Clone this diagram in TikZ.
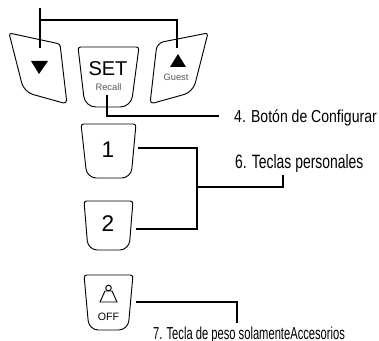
\documentclass[tikz,border=0pt]{standalone}
\usepackage{fontspec}
\setmainfont{Liberation Sans}
\tikzset{
	keyshape/.style={draw,line width=0.7pt,rounded corners=2pt},
	leader/.style={draw,line width=1.1pt},
	calltext/.style={anchor=base west,inner sep=0pt},
	smalltext/.style={text=black!65,font=\fontsize{7}{7}\selectfont},
}
\begin{document}
\begin{tikzpicture}[x=0.75pt,y=-0.75pt]
	\useasboundingbox (0,0) rectangle (379,341);
	%teclas
	\draw[keyshape] (9,33) -- (60,44) [rounded corners=3pt] -- (67,104) [rounded corners=7pt] -- (24,92) [rounded corners=2pt] -- cycle;
	\draw[keyshape] (78,47) -- (139,47) [rounded corners=8pt] -- (131,107) -- (85,107) [rounded corners=2pt] -- cycle;
	\draw[keyshape] (157,43) -- (208,33) [rounded corners=7pt] -- (193,92) [rounded corners=3pt] -- (150,104) [rounded corners=5pt] -- cycle;
	\draw[keyshape] (81,124) -- (136,124) [rounded corners=7pt] -- (131,178) -- (87,178) [rounded corners=2pt] -- cycle;
	\draw[keyshape] (84,201) -- (133,201) [rounded corners=7pt] -- (129,250) -- (88,250) [rounded corners=2pt] -- cycle;
	\draw[keyshape] (84,275) -- (133,275) [rounded corners=7pt] -- (128,330) -- (89,330) [rounded corners=2pt] -- cycle;
	%simbolos
	\fill (31,61) -- (48,61) -- (39,74) -- cycle;
	\fill (170,67) -- (186,67) -- (178,54) -- cycle;
	\node[smalltext] (guest) at (176,77) {Guest};
	\node (set) at (108,68.5) {\fontsize{15}{15}\selectfont SET};
	\node[smalltext] (recall) at (108.5,87) {Recall};
	\node (uno) at (108,150) {\fontsize{17}{17}\selectfont 1};
	\node (dos) at (108,224) {\fontsize{17}{17}\selectfont 2};
	\node (off) at (108.5,317) {\fontsize{8}{8}\selectfont OFF};
	%pesa
	\draw[line width=0.7pt] (105,291) -- (112,291) -- (117,302) -- (100,302) -- cycle;
	\draw[line width=0.7pt] (108.5,288) circle (2.8);
	%rotulos
	\node[calltext,xscale=0.81] (configurar) at (234,123) {\fontsize{13}{13}\selectfont 4. Botón de Configurar};
	\node[calltext,xscale=0.72] (personales) at (235,169) {\fontsize{14.5}{14.5}\selectfont 6. Teclas personales};
	\node[calltext,xscale=0.645] (peso) at (153,340) {\fontsize{13}{13}\selectfont 7. Tecla de peso solamenteAccesorios};
	%lineas
	\draw[leader] (40,8) -- (40,48);
	\draw[leader] (40,20) -- (177,20) -- (177,48);
	\draw[leader] (107,95) -- (107,116) -- (219,116);
	\draw[leader] (138,148) -- (197,148) -- (197,229) -- (136,229);
	\draw[leader] (197,187) -- (283,187) -- (283,175);
	\draw[leader] (136,302) -- (237,302) -- (237,323);
\end{tikzpicture}
\end{document}
